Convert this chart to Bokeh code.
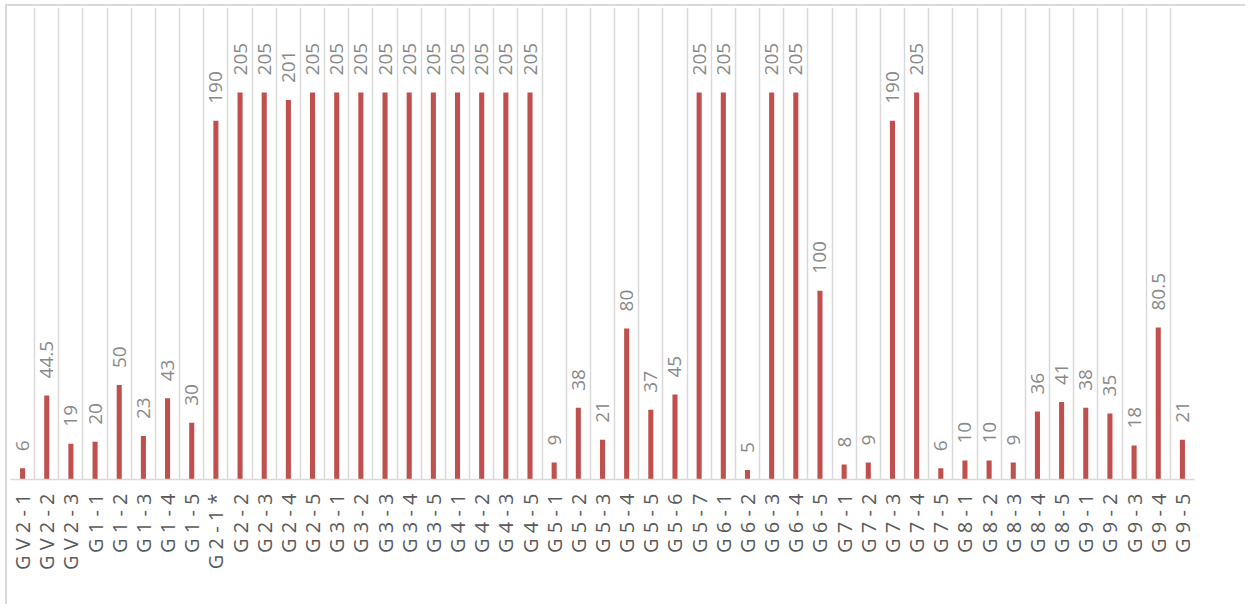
import math
from bokeh.plotting import figure
from bokeh.models import Range1d, FixedTicker, ColumnDataSource
from bokeh.core.properties import value
from bokeh.embed import file_html
from bokeh.resources import INLINE

categories = ["GV2-1", "GV2-2", "GV2-3",
              "G1-1", "G1-2", "G1-3", "G1-4", "G1-5",
              "G2-1*", "G2-2", "G2-3", "G2-4", "G2-5",
              "G3-1", "G3-2", "G3-3", "G3-4", "G3-5",
              "G4-1", "G4-2", "G4-3", "G4-5",
              "G5-1", "G5-2", "G5-3", "G5-4", "G5-5", "G5-6", "G5-7",
              "G6-1", "G6-2", "G6-3", "G6-4", "G6-5",
              "G7-1", "G7-2", "G7-3", "G7-4", "G7-5",
              "G8-1", "G8-2", "G8-3", "G8-4", "G8-5",
              "G9-1", "G9-2", "G9-3", "G9-4", "G9-5"]
values = [6, 44.5, 19,
          20, 50, 23, 43, 30,
          190, 205, 205, 201, 205,
          205, 205, 205, 205, 205,
          205, 205, 205, 205,
          9, 38, 21, 80, 37, 45, 205,
          205, 5, 205, 205, 100,
          8, 9, 190, 205, 6,
          10, 10, 9, 36, 41,
          38, 35, 18, 80.5, 21]

n = len(categories)
centers = [i + 0.5 for i in range(n)]
labels = [("%g" % v) for v in values]
tick_text = [" ".join(list(c)) for c in categories]

src = ColumnDataSource(dict(x=centers, top=values, label=labels))

p = figure(width=1240, height=600, output_backend="svg", toolbar_location=None,
           x_range=Range1d(0, n), y_range=Range1d(0, 250),
           min_border_left=3, min_border_right=53, min_border_top=1, min_border_bottom=127)
p.outline_line_color = None
p.background_fill_color = "white"
p.border_fill_color = "white"
p.styles = {"border-top": "2px solid #d9d9d9", "border-left": "2px solid #d9d9d9",
            "margin-left": "5px", "margin-top": "4px"}

p.vbar(x="x", top="top", bottom=0, width=0.21, source=src,
       fill_color="#c0504d", line_color=None)
p.text(x="x", y="top", text="label", source=src, angle=math.pi / 2,
       text_align="left", text_baseline="middle", y_offset=-17,
       text_font=value("Open Sans"), text_font_size="19px", text_color="#898989")

p.yaxis.visible = False
p.ygrid.visible = False

p.xaxis.ticker = FixedTicker(ticks=centers)
p.xaxis.major_label_overrides = {c: t for c, t in zip(centers, tick_text)}
p.xaxis.major_label_orientation = math.pi / 2
p.xaxis.major_label_text_font = "Open Sans"
p.xaxis.major_label_text_font_size = "20px"
p.xaxis.major_label_text_color = "#595959"
p.xaxis.major_label_standoff = 8
p.xaxis.major_tick_line_color = None
p.xaxis.minor_tick_line_color = None
p.xaxis.axis_line_color = "#d9d9d9"
p.xaxis.axis_line_width = 1.5

p.xgrid.ticker = FixedTicker(ticks=list(range(n + 1)))
p.xgrid.grid_line_color = "#d9d9d9"
p.xgrid.grid_line_width = 1.5

open("out.html", "w").write(file_html(p, INLINE))
